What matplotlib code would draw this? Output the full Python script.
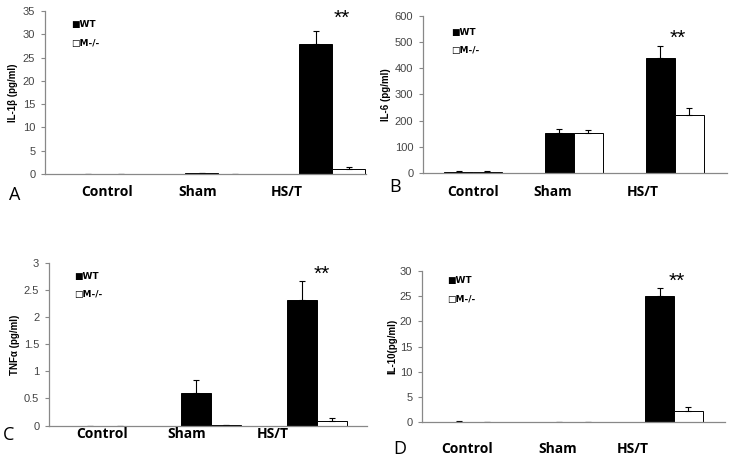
import numpy as np
import matplotlib
matplotlib.use('Agg')
import matplotlib.pyplot as plt

# categories and group labels
categories = ['Control', 'Sham', 'HS/T']
groups = ['WT', 'M-/-']

# A: IL-1b
il1b_wt = [0.02, 0.2, 28.0]
il1b_wt_err = [0.0, 0.05, 2.7]
il1b_ko = [0.01, 0.02, 1.0]
il1b_ko_err = [0.0, 0.02, 0.5]

# B: IL-6
il6_wt = [5, 155, 440]
il6_wt_err = [2, 12, 43]
il6_ko = [5, 152, 220]
il6_ko_err = [3, 14, 29]

# C: TNFa
tnf_wt = [0.0, 0.61, 2.32]
tnf_wt_err = [0.0, 0.23, 0.35]
tnf_ko = [0.0, 0.01, 0.075]
tnf_ko_err = [0.0, 0.005, 0.06]

# D: IL-10
il10_wt = [0.15, 0.0, 24.9]
il10_wt_err = [0.05, 0.0, 1.6]
il10_ko = [0.0, 0.0, 2.3]
il10_ko_err = [0.0, 0.0, 0.7]

W, H = 735, 465
plt.rcParams['font.family'] = ['Liberation Sans', 'DejaVu Sans']
fig = plt.figure(figsize=(W / 100, H / 100), dpi=100)


def fx(x):
    return x / W


def fy(y):
    return 1 - y / H


# panel layout in pixels: left, right, bottom (y=0), top (y=ymax)
panels = [
    dict(letter='A', ylabel='IL-1β (pg/ml)', wt=il1b_wt, wte=il1b_wt_err, ko=il1b_ko, koe=il1b_ko_err,
         box=(45, 366, 174, 11), ymax=35, step=5, xlim=(-0.518, 2.298), width=0.289,
         lab_x=(107, 198, 287), lab_y=192, letter_xy=(15, 195), ylab_x=13,
         star=(342, 18), leg=(71, 25)),
    dict(letter='B', ylabel='IL-6 (pg/ml)', wt=il6_wt, wte=il6_wt_err, ko=il6_ko, koe=il6_ko_err,
         box=(423, 727, 173.3, 15.6), ymax=600, step=100, xlim=(-0.495, 2.515), width=0.287,
         lab_x=(473, 553, 643), lab_y=192, letter_xy=(395, 187), ylab_x=386,
         star=(678, 38), leg=(451, 33)),
    dict(letter='C', ylabel='TNFα (pg/ml)', wt=tnf_wt, wte=tnf_wt_err, ko=tnf_ko, koe=tnf_ko_err,
         box=(49, 367, 425.5, 263.3), ymax=3, step=0.5, xlim=(-0.528, 2.472), width=0.283,
         lab_x=(102, 187, 273), lab_y=434, letter_xy=(9, 435), ylab_x=15,
         star=(322, 274), leg=(74, 276)),
    dict(letter='D', ylabel='IL-10(pg/ml)', wt=il10_wt, wte=il10_wt_err, ko=il10_ko, koe=il10_ko_err,
         box=(422, 725, 422.3, 270.7), ymax=30, step=5, xlim=(-0.507, 2.507), width=0.284,
         lab_x=(467, 558, 633), lab_y=449, letter_xy=(400, 449), ylab_x=392,
         star=(677, 281), leg=(447, 281)),
]

x = np.arange(len(categories))

for p in panels:
    l, r, b, t = p['box']
    ax = fig.add_axes([fx(l), fy(b), (r - l) / W, (b - t) / H])
    w = p['width']
    ek = dict(ecolor='black', elinewidth=0.8, capsize=2.5, capthick=0.8)
    ax.bar(x - w / 2, p['wt'], w, color='black', edgecolor='black', linewidth=0.7,
           yerr=[np.zeros(3), p['wte']], error_kw=ek)
    ax.bar(x + w / 2, p['ko'], w, color='white', edgecolor='black', linewidth=0.7,
           yerr=[np.zeros(3), p['koe']], error_kw=ek)
    ax.set_xlim(*p['xlim'])
    ax.set_ylim(0, p['ymax'])
    ticks = np.arange(0, p['ymax'] + p['step'] / 2, p['step'])
    ax.set_yticks(ticks)
    ax.set_yticklabels(['%g' % v for v in ticks], fontsize=8, color='#444444')
    ax.set_xticks([])
    ax.tick_params(axis='y', direction='out', length=3, width=0.8, color='#888888', pad=4)
    for s in ['top', 'right']:
        ax.spines[s].set_visible(False)
    for s in ['left', 'bottom']:
        ax.spines[s].set_color('#888888')
        ax.spines[s].set_linewidth(0.9)
    ax.patch.set_alpha(0)

    for cx, name in zip(p['lab_x'], categories):
        fig.text(fx(cx), fy(p['lab_y']), name, ha='center', va='center',
                 fontsize=10, fontweight='bold', family='Open Sans')
    fig.text(fx(p['letter_xy'][0]), fy(p['letter_xy'][1]), p['letter'], ha='center',
             va='center', fontsize=13, family='Open Sans')
    fig.text(fx(p['ylab_x']), fy((b + t) / 2), p['ylabel'], rotation=90, ha='center',
             va='center', fontsize=7, fontweight='bold')
    fig.text(fx(p['star'][0]), fy(p['star'][1]), '**', ha='center', va='center', fontsize=15)
    lx, ly = p['leg']
    fig.text(fx(lx), fy(ly), '■' + groups[0], ha='left', va='center', fontsize=6.5,
             fontweight='bold', family='DejaVu Sans')
    fig.text(fx(lx), fy(ly + 18), '□' + groups[1], ha='left', va='center', fontsize=6.5,
             fontweight='bold', family='DejaVu Sans')

plt.savefig('out.png', dpi=100)
